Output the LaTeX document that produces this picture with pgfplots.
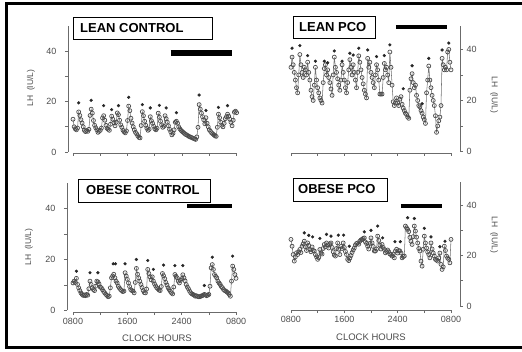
\documentclass[border=0pt]{standalone}
\usepackage{pgfplots}
\pgfplotsset{compat=1.18}
\usepackage{pgfplotstable}
\usepackage{fontspec}
\setmainfont{Liberation Sans}
\definecolor{ink}{gray}{0.3}
\definecolor{axg}{gray}{0.42}

\pgfplotstableread[row sep=\\]{v\\
13\\10\\9.2\\8.8\\9.5\\15.9\\14.5\\12.8\\11.5\\10\\
8.6\\8.1\\8.5\\8.2\\9\\14.5\\17\\15.4\\12.5\\10.6\\
9.6\\8.8\\7.8\\8.2\\8.6\\9.5\\13.5\\14.4\\12.6\\10.6\\
9.4\\9\\8.6\\11\\14.2\\13\\11.6\\10.4\\11.8\\15.5\\
14.8\\12.6\\10.8\\9.8\\8.6\\8\\7.6\\8.4\\12.5\\18.2\\
16.4\\13.4\\11.5\\10\\8.8\\7.8\\7.2\\6.4\\5.8\\5.6\\
10.5\\16\\14.4\\12.2\\10.6\\9.4\\8.6\\9\\14\\12.4\\
11.4\\10.2\\9.2\\8.8\\9.4\\15.4\\13.8\\12.2\\10.8\\9.8\\
10.2\\14.4\\13.2\\11.8\\10.4\\9\\8\\6.8\\7.4\\8.8\\
11.8\\12.2\\11.4\\10\\9.2\\8.6\\8.2\\7.8\\7.4\\7\\
6.8\\6.5\\6.2\\6\\5.8\\5.6\\5.4\\5.2\\5\\6\\
9.8\\18.8\\17\\15.4\\14\\12.8\\11.2\\13.6\\11.4\\10\\
8.8\\8.2\\7.6\\7.2\\6.8\\6.4\\6.2\\9.8\\15\\13.6\\
11.8\\10.6\\10\\11.4\\13.2\\14\\15\\14.2\\13\\11.8\\
10.4\\12.6\\15.8\\16.2\\15.6\\}\tA

\pgfplotstableread[row sep=\\]{v\\
33\\37\\34\\31\\28\\25\\23\\30\\38\\34\\
31\\29\\33\\32\\30\\35\\31\\28\\24\\21.5\\
20\\26\\33\\28\\25\\23\\21\\20\\19\\27\\
32.5\\34\\30\\32\\29\\27\\24.5\\22\\30\\37\\
33\\31\\28.5\\26\\24\\28\\34\\31\\28\\25\\
23\\27\\32\\36\\33\\30\\34\\31\\28\\25\\
31\\37.5\\35\\32\\29\\26.5\\24\\22.5\\21\\36.5\\
33\\35\\31\\29\\27\\25\\30\\34\\32\\28\\
22.5\\22.5\\22.5\\29\\34.5\\32\\33\\30\\27\\39\\
33\\26\\19.5\\18\\19\\21\\19\\18\\20.5\\21.5\\
18.5\\17\\16\\15\\14.5\\13.5\\13\\24\\28.5\\30.5\\
27\\25\\26\\22\\20\\18\\17.5\\16\\15\\13.5\\
12.5\\11\\23\\28\\33.5\\28\\25\\22\\20\\18\\
14\\7.5\\10\\12\\13.5\\18\\36.5\\34\\32\\33\\
32\\39\\40\\35\\32\\}\tB

\pgfplotstableread[row sep=\\]{v\\
10.8\\11.5\\11\\12.6\\10.2\\8.9\\7.8\\6.9\\6.3\\5.9\\
6.1\\5.8\\6.3\\6\\8.5\\11.5\\10.2\\8.9\\8.2\\7.8\\
9.5\\11.5\\11.2\\10.4\\9.2\\8.9\\8.2\\7.5\\6.9\\6.3\\
5.9\\5.4\\5.6\\8.9\\12.8\\13.5\\14.2\\12.8\\11.5\\10.8\\
9.5\\8.8\\8.2\\7.8\\7.4\\7.6\\14.8\\13.5\\12.2\\10.8\\
9.4\\8.2\\7.8\\7.6\\6.9\\11\\16.5\\14.2\\12.8\\11.5\\
10.2\\9\\7.8\\7\\6.9\\8.4\\16.1\\14.5\\13.2\\12\\
13.2\\11.5\\10.4\\9.6\\8.9\\8.5\\8\\7.8\\9.4\\14.5\\
13.6\\12.5\\11\\10\\8.9\\8.2\\7.5\\6.9\\6.5\\9.2\\
14.1\\13.4\\12.8\\11.5\\10.8\\11.8\\12.5\\14\\12.8\\11.6\\
10.2\\9.2\\8.5\\7.6\\6.9\\6.5\\6.3\\6\\5.6\\5.8\\
5.5\\5.4\\5.4\\5.6\\5.8\\6\\6.3\\6.1\\5.8\\6\\
6.3\\9.5\\16.7\\18\\16.1\\14.1\\13.4\\12.8\\11.5\\10.8\\
10.2\\9.4\\8.9\\8.2\\7.8\\7.6\\7.2\\6.9\\6.3\\5.6\\
11.5\\17.4\\16.1\\14.1\\12.6\\}\tC

\pgfplotstableread[row sep=\\]{v\\
26.4\\23.7\\20.4\\17.8\\19.5\\21.1\\20.4\\21.5\\22.4\\21.2\\
23.7\\24.6\\25.7\\23.5\\22\\25\\24\\22.4\\21.5\\23.4\\
22\\21.8\\20.4\\19.5\\18.5\\19.2\\22.4\\21\\20.6\\22.8\\
24.4\\23.5\\25\\24.2\\23\\24.6\\25\\23.2\\21.5\\20.2\\
19.8\\22.8\\25\\22.5\\20.4\\23.6\\22.8\\25\\23.2\\21.6\\
20.4\\18.5\\18\\19\\20\\21.2\\22.2\\23\\24.2\\24.8\\
25\\24.5\\25.7\\26.2\\26.4\\26.8\\27\\25.4\\24.8\\23.7\\
22.6\\24.8\\27\\25\\23.6\\21.8\\21.8\\22.6\\27.7\\26\\
24.2\\22.6\\24.4\\23.2\\22.4\\21.1\\21.6\\22.2\\21.5\\20.6\\
20.4\\19.8\\20.6\\19.1\\21.8\\22.5\\21\\22\\21.8\\21\\
19.1\\19.6\\19.8\\31.7\\31\\30.4\\29.5\\27.2\\25.7\\24.4\\
27.5\\31.7\\29.7\\27.3\\25\\22.8\\21.8\\17.8\\15.8\\22.5\\
27.7\\25\\23\\21.4\\20.4\\19.1\\25\\22.6\\21\\19.8\\
18.5\\18.2\\17.8\\19.1\\21\\16.5\\14.5\\15.5\\23.7\\22\\
19.8\\19\\18.5\\17.1\\26.4\\}\tD

\pgfplotsset{
  lh/.style={
    scale only axis, anchor=south west, clip=false,
    axis x line*=bottom, axis line style={draw=none},
    xtick={0,24,...,144}, ytick={0,20,40}, minor ytick={10,30},
    tick align=outside, major tick length=3pt, minor tick length=3pt,
    tick style={axg, line width=0.7pt},
    tick label style={font=\fontsize{9}{10}\selectfont, text=ink},
    /pgf/number format/assume math mode=true,
  },
  trace/.style={black!55, line width=0.55pt, mark=o, mark size=2pt,
    mark options={black!70, line width=0.7pt}},
  star/.style={only marks, mark=*, mark size=1.4pt, black!85},
}

\begin{document}
\begin{tikzpicture}
\useasboundingbox (0pt,0pt) rectangle (522pt,351pt);

% ---------- LEAN CONTROL ----------
\begin{axis}[lh, at={(68pt,198pt)}, width=169.2pt, height=127pt,
  axis y line*=left, xmin=-4.4, xmax=144.5, ymin=-0.4, ymax=50,
  xticklabels={}, yticklabel style={xshift=-5pt}]
  \draw[axg, line width=0.7pt] (axis cs:-4.4,0) -- (axis cs:-4.4,50);
  \draw[axg, line width=0.7pt] (axis cs:0,-0.4) -- (axis cs:144,-0.4);
  \draw[line width=6pt] (axis cs:86,39.3) -- (axis cs:139.6,39.3);
  \addplot[trace] table[x expr=\coordindex, y=v] {\tA};
  \addplot[star] coordinates {(5,19.5) (16,20.5) (27,18.4) (34,16.8) (40,18.4)
    (49,21.7) (61,18.8) (68,17.5) (76,18.5) (82,17.5) (91,15.6) (111,22.6)
    (117,16.5) (128,17.7) (136,18.4)};
\end{axis}

% ---------- LEAN PCO ----------
\begin{axis}[lh, at={(290.4pt,198pt)}, width=169.6pt, height=126.5pt,
  axis y line*=right, xmin=-0.5, xmax=152.1, ymin=-0.6, ymax=49,
  xticklabels={}]
  \draw[axg, line width=0.7pt] (axis cs:152.1,0) -- (axis cs:152.1,49);
  \draw[axg, line width=0.7pt] (axis cs:0,-0.6) -- (axis cs:144,-0.6);
  \draw[line width=4.5pt] (axis cs:94.5,48.8) -- (axis cs:140.4,48.8);
  \addplot[trace] table[x expr=\coordindex, y=v] {\tB};
  \addplot[star] coordinates {(1,40.5) (8,41.5) (15,37.6) (22,35.4) (30,35.4)
    (33,34.8) (39,39.4) (46,35.4) (53,38.5) (56,37.8) (61,40.5) (69,39.8)
    (77,37.2) (84,37.6) (89,41.8) (101,24.6) (109,33.6) (118,18.7) (124,36.5)
    (136,39.8) (142,42.5)};
\end{axis}

% ---------- OBESE CONTROL ----------
\begin{axis}[lh, at={(67pt,39pt)}, width=169.6pt, height=129pt,
  axis y line*=left, xmin=-5.3, xmax=144.5, ymin=-0.6, ymax=50,
  xticklabels={0800,,1600,,2400,,0800}, yticklabel style={xshift=-5pt}]
  \draw[axg, line width=0.7pt] (axis cs:-5.3,0) -- (axis cs:-5.3,50);
  \draw[axg, line width=0.7pt] (axis cs:0,-0.6) -- (axis cs:144,-0.6);
  \draw[line width=4pt] (axis cs:100.7,41) -- (axis cs:140.5,41);
  \addplot[trace] table[x expr=\coordindex, y=v] {\tC};
  \addplot[star] coordinates {(3,15.4) (15,14.8) (22,14.8) (35.5,18.3) (37.5,18.3)
    (46,18.3) (56,20) (66,19.6) (71,16.1) (80,17.8) (90,17.6) (97,17.6)
    (116,9.8) (123,20.9) (141,21.3)};
\end{axis}

% ---------- OBESE PCO ----------
\begin{axis}[lh, at={(290.4pt,41pt)}, width=169.6pt, height=128.8pt,
  axis y line*=right, xmin=-0.5, xmax=152.1, ymin=-1.6, ymax=49.5,
  xticklabels={0800,,1600,,2400,,0800}]
  \draw[axg, line width=0.7pt] (axis cs:152.1,0) -- (axis cs:152.1,49.2);
  \draw[axg, line width=0.7pt] (axis cs:0,-1.6) -- (axis cs:144,-1.6);
  \draw[line width=4pt] (axis cs:99,39.7) -- (axis cs:136,39.7);
  \addplot[trace] table[x expr=\coordindex, y=v] {\tD};
  \addplot[star] coordinates {(12,29) (16,28) (19.5,27.4) (26,26.8) (32,28.4)
    (36,27.7) (42.6,28.1) (47.4,28.1) (52.5,23.7) (66,29.4) (72,30) (78,31.7)
    (82.5,27) (93.6,25.5) (98.4,25.5) (105,35) (111,34.7) (120,30.8) (126,27.4)
    (134,23.5) (138.6,25.7)};
\end{axis}

% ---------- titles ----------
\draw[line width=0.9pt, fill=white] (73pt,312pt) rectangle (212pt,334pt);
\node[anchor=west, inner sep=0pt, font=\fontsize{13}{13}\selectfont\bfseries] at (80pt,323pt) {LEAN CONTROL};
\draw[line width=0.9pt, fill=white] (293pt,313pt) rectangle (375pt,335pt);
\node[anchor=west, inner sep=0pt, font=\fontsize{13}{13}\selectfont\bfseries] at (299pt,324pt) {LEAN PCO};
\draw[line width=0.9pt, fill=white] (78pt,149pt) rectangle (210pt,172pt);
\node[anchor=west, inner sep=0pt, font=\fontsize{13}{13}\selectfont\bfseries] at (86pt,160.5pt) {OBESE CONTROL};
\draw[line width=0.9pt, fill=white] (293pt,150pt) rectangle (387pt,173pt);
\node[anchor=west, inner sep=0pt, font=\fontsize{13}{13}\selectfont\bfseries] at (298pt,161.5pt) {OBESE PCO};

% ---------- axis labels ----------
\node[rotate=90, font=\fontsize{8.5}{10}\selectfont, text=ink] at (31pt,263pt) {LH\ \ (IU/L)};
\node[rotate=90, font=\fontsize{8.5}{10}\selectfont, text=ink] at (29pt,104pt) {LH\ \ (IU/L)};
\node[rotate=-90, font=\fontsize{8.5}{10}\selectfont, text=ink] at (494pt,256pt) {LH\ \ (IU/L)};
\node[rotate=-90, font=\fontsize{8.5}{10}\selectfont, text=ink] at (494pt,116pt) {LH\ \ (IU/L)};
\node[font=\fontsize{9.5}{10}\selectfont, text=ink] at (157pt,13pt) {CLOCK HOURS};
\node[font=\fontsize{9.5}{10}\selectfont, text=ink] at (371pt,14pt) {CLOCK HOURS};

% ---------- outer frame ----------
\begin{scope}
  \clip (0pt,0pt) rectangle (522pt,351pt);
  \draw[line width=3pt, line join=miter] (560pt,347pt) -- (6.5pt,347pt) -- (6.5pt,3.7pt) -- (560pt,3.7pt);
\end{scope}
\end{tikzpicture}
\end{document}
